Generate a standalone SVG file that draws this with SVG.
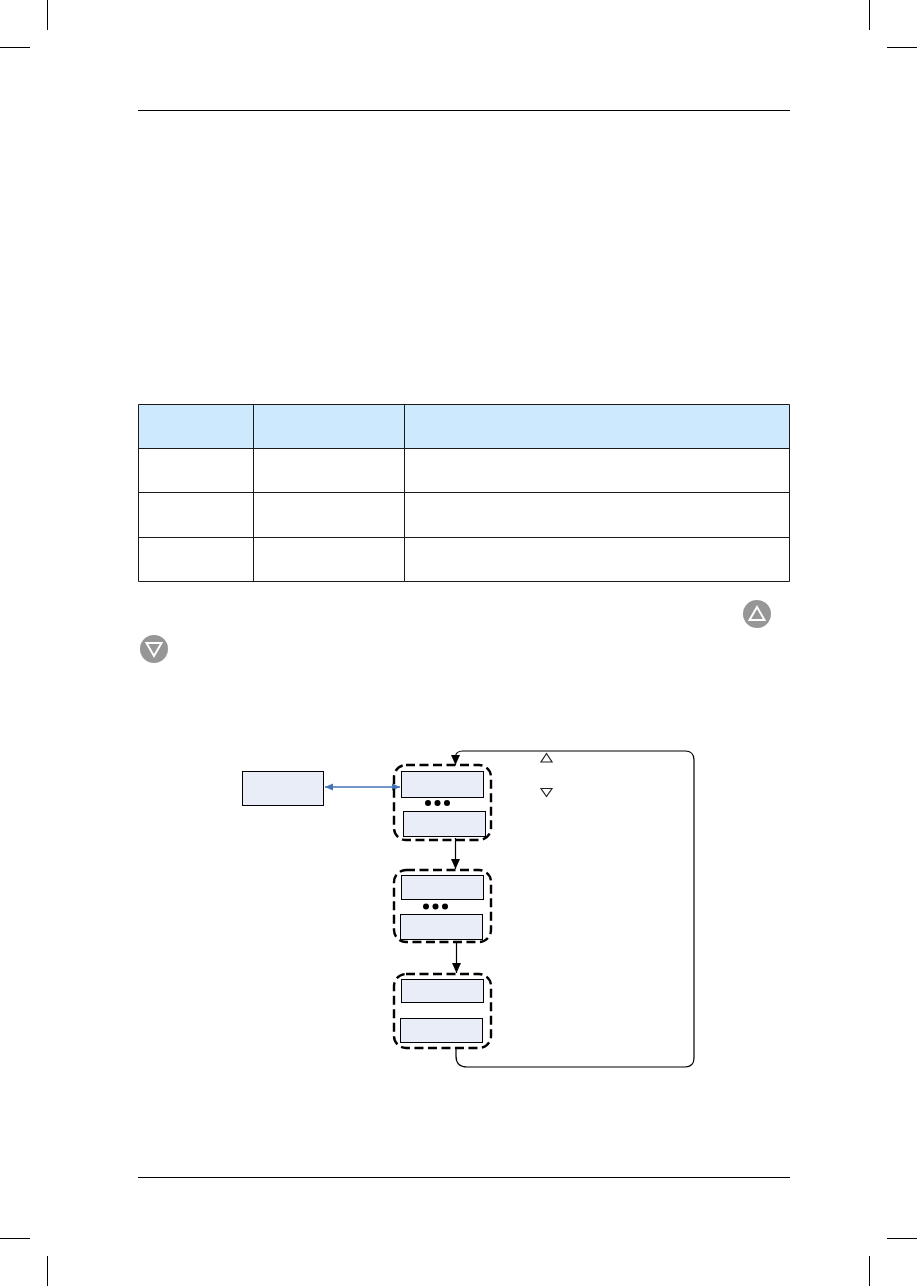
<svg xmlns="http://www.w3.org/2000/svg" width="917" height="1286" viewBox="0 0 917 1286">
<style>
.crop{stroke:#000;stroke-width:1;fill:none}
.rule{stroke:#000;stroke-width:1;fill:none}
.grid{stroke:#1a1a1a;stroke-width:1;fill:none}
.box{fill:#e8edf7;stroke:#000;stroke-width:1}
.group{fill:none;stroke:#000;stroke-width:2.4;stroke-dasharray:9 4.500}
.wire{fill:none;stroke:#000;stroke-width:1.2}
.blue{fill:none;stroke:#4472b4;stroke-width:1.3}
.dot{fill:#000}
.key{fill:#969696}
.keytri{fill:none;stroke:#fff;stroke-width:2}
.tri{fill:#fff;stroke:#222;stroke-width:1.2}
</style>
<defs>
<marker id="ah" markerUnits="userSpaceOnUse" markerWidth="11" markerHeight="11" refX="10" refY="5" orient="auto"><path d="M0,0.500 L10,5 L0,9.500 Z" fill="#000"/></marker>
<marker id="ab" markerUnits="userSpaceOnUse" markerWidth="9" markerHeight="9" refX="8" refY="4" orient="auto-start-reverse"><path d="M0,0.500 L8,4 L0,7.500 Z" fill="#4472b4"/></marker>
</defs>
<g id="crop-marks">
<path class="crop" d="M47.500 0V30M0 47.500H30M869.500 0V30M887 47.500H917M47.500 1256V1286M0 1238.500H30M869.500 1256V1286M887 1238.500H917"/>
</g>
<g id="page-rules">
<path class="rule" d="M138 110.500H790M138 1177.500H790"/>
</g>
<g id="table">
<rect x="138.500" y="404.500" width="651" height="44" fill="#cce9fd"/>
<path class="grid" d="M138.500 404.500H789.500V581.500H138.500ZM138.500 448.500H789.500M138.500 492.500H789.500M138.500 537.500H789.500M253.500 404.500V581.500M404.500 404.500V581.500"/>
</g>
<g id="key-up">
<circle class="key" cx="757" cy="614" r="14"/>
<path class="keytri" d="M757 607L764.500 620H749.500Z"/>
</g>
<g id="key-down">
<circle class="key" cx="154" cy="649" r="14"/>
<path class="keytri" d="M146.500 643H161.500L154 656Z"/>
</g>
<g id="connectors">
<path class="wire" marker-end="url(#ah)" d="M694 760Q694 751 685 751H463Q455.500 751 455.500 757V765"/>
<path class="wire" d="M694 760V1058Q694 1067 685 1067H467Q456 1067 456 1056V1047"/>
<path class="wire" marker-end="url(#ah)" d="M455.500 838V869"/>
<path class="wire" marker-end="url(#ah)" d="M456.500 942V973"/>
<path class="blue" marker-start="url(#ab)" marker-end="url(#ab)" d="M325 787H400"/>
</g>
<g id="node-left"><rect class="box" x="242.500" y="771.500" width="81" height="34"/></g>
<g id="group-1">
<rect class="group" x="394" y="765" width="97" height="75" rx="12"/>
<rect class="box" x="401.500" y="771.500" width="82" height="26"/>
<rect class="box" x="403.500" y="811.500" width="82" height="25"/>
<circle class="dot" cx="428" cy="803" r="3"/><circle class="dot" cx="437.500" cy="803" r="3"/><circle class="dot" cx="447" cy="803" r="3"/>
</g>
<g id="group-2">
<rect class="group" x="394" y="870" width="97" height="72" rx="12"/>
<rect class="box" x="401.500" y="875.500" width="82" height="24"/>
<rect class="box" x="400.500" y="914.500" width="82" height="25"/>
<circle class="dot" cx="426" cy="906.500" r="3"/><circle class="dot" cx="435.500" cy="906.500" r="3"/><circle class="dot" cx="445" cy="906.500" r="3"/>
</g>
<g id="group-3">
<rect class="group" x="394" y="974" width="97" height="74" rx="12"/>
<rect class="box" x="401.500" y="979.500" width="82" height="23"/>
<rect class="box" x="400.500" y="1018.500" width="82" height="24"/>
</g>
<g id="legend">
<path class="tri" d="M546.500 753.500L552 762H541Z"/>
<path class="tri" d="M541 788.500H552L546.500 796.500Z"/>
</g>
</svg>
